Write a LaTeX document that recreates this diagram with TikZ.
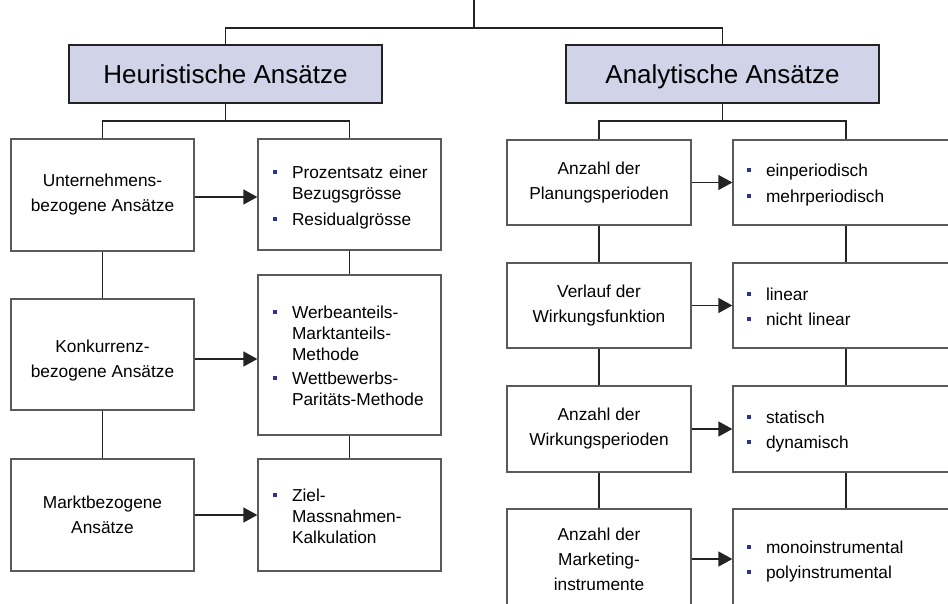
\documentclass[tikz,border=0pt]{standalone}
\usepackage{fontspec}
\setmainfont{Liberation Sans}
\usetikzlibrary{arrows.meta}
\definecolor{titlefill}{RGB}{209,211,232}
\definecolor{boxline}{RGB}{90,90,90}
\definecolor{linkline}{RGB}{35,35,35}
\definecolor{bulletblue}{RGB}{45,50,145}
% small square list marker
\newcommand{\sqbul}{\textcolor{bulletblue}{\rule[4.5pt]{3.8pt}{3.8pt}}}
\newenvironment{sqlist}{\noindent\begin{tabular}{@{}l@{\hspace{15.2pt}}l@{}}\noalign{\vspace{6pt}}}{\end{tabular}}

\begin{document}
\begin{tikzpicture}[x=1pt,y=-1pt,
  link/.style={draw=linkline,line width=1.3pt},
  arr/.style={link,-{Triangle[length=14pt,width=15pt]}},
  titlebox/.style={draw=linkline,line width=1.2pt,fill=titlefill,
    minimum width=313pt,minimum height=58pt,inner sep=0pt,
    text height=18.6pt,text depth=0pt,
    font=\fontsize{26}{30}\selectfont},
  leftbox/.style={draw=boxline,line width=1.3pt,fill=white,
    minimum width=183pt,inner sep=0pt,align=center,
    font=\fontsize{17.3}{25}\selectfont},
  midbox/.style={leftbox,minimum width=184pt},
  listbox/.style={draw=boxline,line width=1.3pt,fill=white,
    inner xsep=15pt,inner ysep=0pt,text width=153pt,align=left,
    font=\fontsize{17.3}{21}\selectfont},
  widebox/.style={listbox,inner xsep=14pt,text width=198pt}]
\useasboundingbox (0,0) rectangle (948,603);
\clip (0,0) rectangle (948,603);
\fill[white] (0,0) rectangle (948,603);

% the two families of approaches
\node[titlebox] (heu) at (225.5,74) {Heuristische Ansätze};
\node[titlebox] (ana) at (722.5,74) {Analytische Ansätze};

% heuristic approaches
\node[leftbox,minimum height=112pt] (unt) at (102.5,195) {Unternehmens-\\bezogene Ansätze};
\node[leftbox,minimum height=111pt] (kon) at (102.5,354.5) {\rule{0pt}{25pt}Konkurrenz-\\bezogene Ansätze};
\node[leftbox,minimum height=112pt] (mkt) at (102.5,515) {Marktbezogene\\Ansätze};

\node[listbox,minimum height=111pt] (pro) at (349.5,194.5) {\begin{sqlist}
\sqbul & Prozentsatz einer\\ & Bezugsgrösse\\[5pt]
\sqbul & Residualgrösse\end{sqlist}};
\node[listbox,minimum height=160pt] (wer) at (349.5,355) {\begin{sqlist}
\sqbul & Werbeanteils-\\ & Marktanteils-\\ & Methode\\[3pt]
\sqbul & Wettbewerbs-\\ & Paritäts-Methode\end{sqlist}};
\node[listbox,minimum height=112pt] (zie) at (349.5,515) {\begin{sqlist}
\sqbul & Ziel-\\ & Massnahmen-\\ & Kalkulation\end{sqlist}};

% analytic approaches
\node[midbox,minimum height=85pt] (pla) at (599,182.5) {Anzahl der\\Planungsperioden};
\node[midbox,minimum height=85pt] (ver) at (599,305.5) {Verlauf der\\Wirkungsfunktion};
\node[midbox,minimum height=86pt] (wip) at (599,429) {Anzahl der\\Wirkungsperioden};
\node[midbox,minimum height=100pt] (ins) at (599,559) {Anzahl der\\Marketing-\\instrumente};

\node[widebox,minimum height=85pt] (per) at (846,182.5) {\begin{sqlist}
\sqbul & einperiodisch\\[5pt] \sqbul & mehrperiodisch\end{sqlist}};
\node[widebox,minimum height=85pt] (lin) at (846,305.5) {\begin{sqlist}
\sqbul & linear\\[4pt] \sqbul & nicht linear\end{sqlist}};
\node[widebox,minimum height=86pt] (dyn) at (846,429) {\begin{sqlist}
\sqbul & statisch\\[4pt] \sqbul & dynamisch\end{sqlist}};
\node[widebox,minimum height=100pt] (mon) at (846,559) {\begin{sqlist}
\sqbul & monoinstrumental\\[4pt] \sqbul & polyinstrumental\end{sqlist}};

% tree connectors
\coordinate (top) at (474,0);
\coordinate (fork) at (474,28);
\coordinate (hfork) at (225.5,121);
\coordinate (afork) at (722.5,121);
\draw[link] (top) -- (fork) -| (heu.north);
\draw[link] (fork) -| (ana.north);
\draw[link] (heu.south) -- (hfork) -| (unt.north);
\draw[link] (hfork) -| (pro.north);
\draw[link] (ana.south) -- (afork) -| (pla.north);
\draw[link] (afork) -| (per.north);

\draw[link] (unt.south) -- (kon.north);
\draw[link] (kon.south) -- (mkt.north);
\draw[link] (pro.south) -- (wer.north);
\draw[link] (wer.south) -- (zie.north);
\draw[link] (pla.south) -- (ver.north);
\draw[link] (ver.south) -- (wip.north);
\draw[link] (wip.south) -- (ins.north);
\draw[link] (per.south) -- (lin.north);
\draw[link] (lin.south) -- (dyn.north);
\draw[link] (dyn.south) -- (mon.north);

% arrows to the variants
\draw[arr] ([yshift=-2pt]unt.east) -- ([yshift=-2pt]unt.east -| pro.west);
\draw[arr] ([yshift=-4.5pt]kon.east) -- ([yshift=-4.5pt]kon.east -| wer.west);
\draw[arr] (mkt.east) -- (mkt.east -| zie.west);
\draw[arr] (pla.east) -- (pla.east -| per.west);
\draw[arr] (ver.east) -- (ver.east -| lin.west);
\draw[arr] (wip.east) -- (wip.east -| dyn.west);
\draw[arr] (ins.east) -- (ins.east -| mon.west);
\end{tikzpicture}
\end{document}
